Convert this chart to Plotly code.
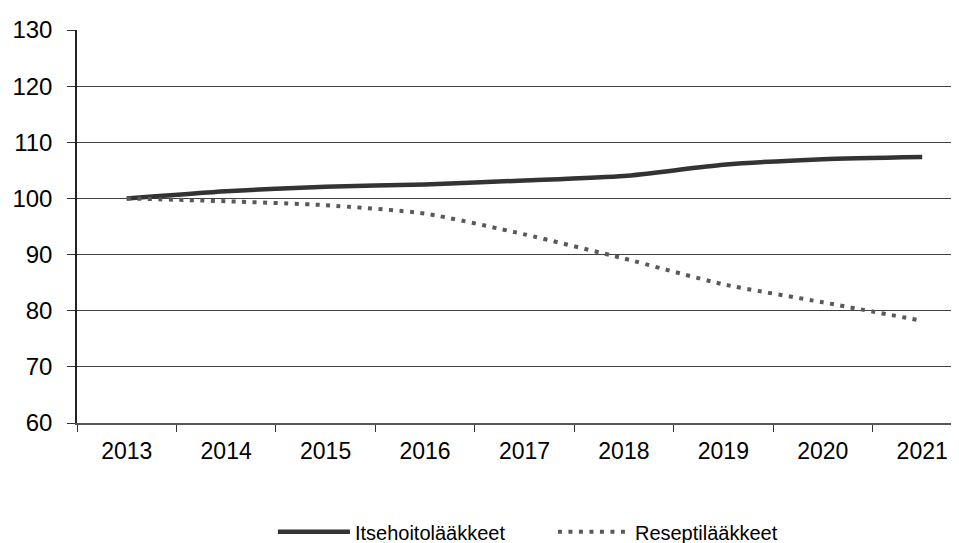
import plotly.graph_objects as go

years = ["2013", "2014", "2015", "2016", "2017", "2018", "2019", "2020", "2021"]
itsehoito = [100.0, 101.3, 102.1, 102.5, 103.2, 104.0, 106.0, 107.0, 107.4]
resepti = [100.0, 99.5, 98.8, 97.3, 93.6, 89.3, 84.7, 81.5, 78.2]
yticks = [60, 70, 80, 90, 100, 110, 120, 130]

fig = go.Figure()
fig.add_trace(go.Scatter(
    x=years, y=itsehoito, name="Itsehoitolääkkeet", mode="lines",
    line=dict(color="#333333", width=4.5, shape="spline", smoothing=0.6),
))
fig.add_trace(go.Scatter(
    x=years, y=resepti, name="Reseptilääkkeet", mode="lines",
    line=dict(color="#595959", width=4, dash="4px,6.5px", shape="spline", smoothing=0.6),
))

fig.update_layout(
    width=951, height=535,
    margin=dict(l=69, r=1, t=22, b=120, autoexpand=False),
    paper_bgcolor="white", plot_bgcolor="white",
    font=dict(family="Liberation Sans, Arial, sans-serif", color="black"),
    showlegend=True,
    legend=dict(orientation="h", x=0.2224, xanchor="left", xref="paper",
                y=-0.277, yanchor="middle", font=dict(size=20),
                itemwidth=72, entrywidth=193, entrywidthmode="pixels",
                traceorder="normal"),
)
fig.update_xaxes(
    type="category", range=[-0.5, 8.36], automargin=False,
    tickson="boundaries", ticks="outside", ticklen=7, tickcolor="#333333",
    showline=True, linecolor="#555555", linewidth=2,
    showgrid=False, tickfont=dict(size=23), ticklabelstandoff=6,
)
fig.update_yaxes(
    range=[60, 130], tickvals=yticks, automargin=False,
    ticks="outside", ticklen=8, tickcolor="#333333",
    showline=True, linecolor="#222222", linewidth=1.5,
    showgrid=True, gridcolor="#404040", gridwidth=1,
    tickfont=dict(size=24), ticklabelstandoff=10, zeroline=False,
)

fig.write_html("out.html")
